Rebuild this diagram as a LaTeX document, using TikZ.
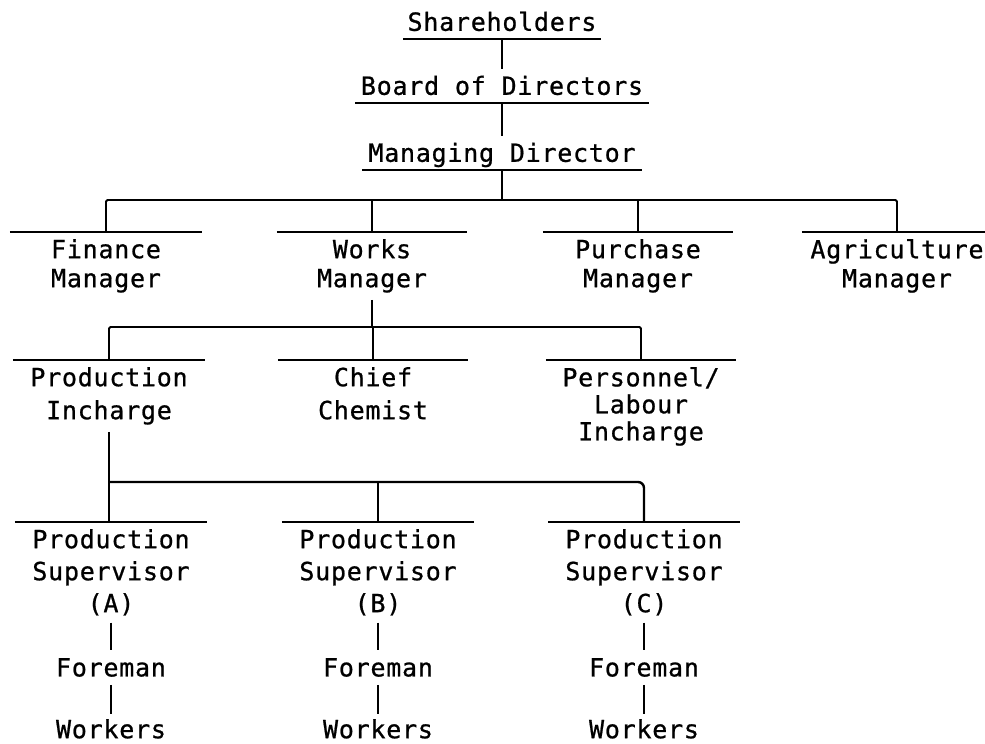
\documentclass[tikz,border=0pt]{standalone}
\usepackage{fontspec}
\newfontfamily\chartfont[LetterSpace=3,FakeBold=0.8]{DejaVu Sans Mono}
\begin{document}
\begin{tikzpicture}[x=1pt,y=-1pt,
  txt/.style={font=\chartfont\fontsize{25}{#1}\selectfont, align=center, inner xsep=0pt, text=black},
  txt/.default=28,
  topunit/.style={txt, anchor=south, inner ysep=8pt, text height=18pt, text depth=0pt},
  unitbox/.style={txt=#1, anchor=north, inner ysep=7pt},
  unitbox/.default=27,
  plainunit/.style={txt, anchor=north, inner ysep=8pt},
  lastunit/.style={txt, anchor=north, inner ysep=1pt, text depth=0pt},
  bar/.style={line width=1.6pt, black},
  conn/.style={line width=1.8pt, black},
  busline/.style={line width=2.4pt, black}
]
\useasboundingbox (0,0) rectangle (985,744);

% top chain
\node[topunit, minimum width=197pt] (sh) at (502,39) {Shareholders};
\node[topunit, minimum width=293pt] (bd) at (502,103) {Board of Directors};
\node[topunit, minimum width=279pt] (md) at (502,170) {Managing Director};
\foreach \n in {sh,bd,md} \draw[bar] (\n.south west) -- (\n.south east);
\draw[conn] (sh.south) -- (bd.north);
\draw[conn] (bd.south) -- (md.north);

% managers
\node[unitbox=29, minimum width=192pt] (fm) at (106,232) {Finance\\Manager};
\node[unitbox=29, minimum width=190pt] (wm) at (372,232) {Works\\Manager};
\node[unitbox=29, minimum width=190pt] (pm) at (638,232) {Purchase\\Manager};
\node[unitbox=29, minimum width=190pt] (am) at (897,232) {Agriculture\\Manager};
\foreach \n in {fm,wm,pm,am} \draw[bar] (\n.north west) -- (\n.north east);
\coordinate (j1) at (502,200);
\draw[conn] (md.south) -- (j1);
\draw[conn, rounded corners=1.5pt] (fm.north) |- (j1) -| (am.north);
\draw[conn] (wm.north) -- (wm.north |- j1);
\draw[conn] (pm.north) -- (pm.north |- j1);

% works manager's units
\node[unitbox=33, minimum width=192pt] (pi) at (109,360) {Production\\Incharge};
\node[unitbox=33, minimum width=190pt] (cc) at (373,360) {Chief\\Chemist};
\node[unitbox=27, minimum width=190pt] (pl) at (641,360) {Personnel/\\Labour\\Incharge};
\foreach \n in {pi,cc,pl} \draw[bar] (\n.north west) -- (\n.north east);
\coordinate (j2) at (372,327);
\draw[conn] (wm.south) -- (j2);
\draw[conn, rounded corners=1.5pt] (pi.north) |- (j2) -| (pl.north);
\draw[conn] (cc.north) -- (cc.north |- j2);

% supervisors
\node[unitbox=32, minimum width=192pt] (psa) at (111,522) {Production\\Supervisor\\(A)};
\node[unitbox=32, minimum width=192pt] (psb) at (378,522) {Production\\Supervisor\\(B)};
\node[unitbox=32, minimum width=191pt] (psc) at (644,522) {Production\\Supervisor\\(C)};
\foreach \n in {psa,psb,psc} \draw[bar] (\n.north west) -- (\n.north east);
\coordinate (j3) at (378,482);
\draw[busline] (pi.south) -- (pi.south |- psa.north);
\draw[busline, rounded corners=6pt] (pi.south |- j3) -| (psc.north);
\draw[busline] (j3) -- (psb.north);

% foremen and workers
\node[plainunit] (fa) at (111,650) {Foreman};
\node[plainunit] (fb) at (378,650) {Foreman};
\node[plainunit] (fc) at (644,650) {Foreman};
\node[lastunit] (wa) at (111,718) {Workers};
\node[lastunit] (wb) at (378,718) {Workers};
\node[lastunit] (wc) at (644,718) {Workers};
\draw[conn] (psa.south) -- (fa.north);
\draw[conn] (psb.south) -- (fb.north);
\draw[conn] (psc.south) -- (fc.north);
\draw[conn, shorten >=4pt] (fa.south) -- (wa.north);
\draw[conn, shorten >=4pt] (fb.south) -- (wb.north);
\draw[conn, shorten >=4pt] (fc.south) -- (wc.north);
\end{tikzpicture}
\end{document}
